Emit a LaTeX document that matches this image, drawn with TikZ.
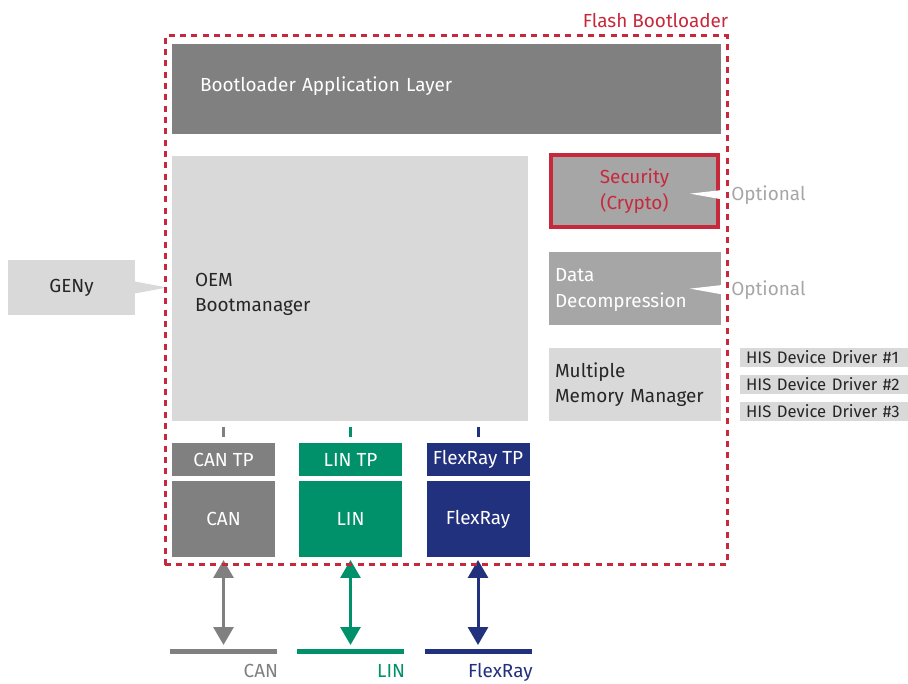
\documentclass[tikz,border=0pt]{standalone}
\usepackage{fontspec}
\setmainfont{Fira Sans}
\usetikzlibrary{arrows.meta}
\definecolor{boxdark}{HTML}{808080}
\definecolor{boxmid}{HTML}{A6A6A6}
\definecolor{boxlite}{HTML}{D9D9D9}
\definecolor{flashred}{HTML}{C8283C}
\definecolor{lingreen}{HTML}{00916A}
\definecolor{flexblue}{HTML}{21317D}
\definecolor{txtdark}{HTML}{262626}
\begin{document}
\begin{tikzpicture}[x=.75pt,y=-.75pt,font=\fontsize{14.2}{19}\selectfont]
\tikzset{blk/.style={inner sep=0pt,outer sep=0pt,align=left},
  lite/.style={blk,fill=boxlite,text=txtdark},
  optlabel/.style={inner sep=0pt,anchor=west,text=boxmid},
  busarrow/.style={line width=2.25pt,{Triangle[width=15pt,length=13.5pt]}-{Triangle[width=15pt,length=13.5pt]}}}
\useasboundingbox (0,0) rectangle (908,684);
%%% upper layers
\node[blk,fill=boxdark,text=white,minimum height=67.5pt,inner xsep=21pt,text width=369.75pt,text depth=8pt] (appl) at (446.5,89) {Bootloader Application Layer};
\node[lite,minimum height=198.75pt,inner xsep=17.25pt,text width=232.5pt,text height=18.8pt] (oem) at (350,288.5) {OEM\\Bootmanager};
\node[blk,align=center,fill=boxmid,draw=flashred,line width=3pt,text=flashred,minimum width=125.25pt,minimum height=54pt] (sec) at (634.5,191) {Security\\(Crypto)};
\node[blk,fill=boxmid,text=white,minimum height=54.75pt,inner xsep=4.5pt,text width=120pt,text height=12pt] (dec) at (635,288.5) {Data\\Decompression};
\node[lite,minimum height=54.75pt,inner xsep=4.5pt,text width=120pt] (mmm) at (635,384.5) {Multiple\\Memory Manager};
\foreach \i/\y in {1/357.5,2/384.5,3/411.5}
  \node[lite,font=\fontsize{12.5}{15}\selectfont,minimum height=14.25pt,inner xsep=4.5pt,text width=117pt] (his\i) at (824,\y) {HIS Device Driver \#\i};
% GENy with pointer
\node[lite,align=center,minimum width=95.25pt,minimum height=41.25pt] (geny) at (71.5,287.5) {GENy};
\fill[boxlite] ([yshift=4.5pt]geny.east) -- ([xshift=24pt]geny.east) -- ([yshift=-4.5pt]geny.east) -- cycle;
% optional callouts
\node[optlabel] (opt1) at (731,195) {Optional};
\node[optlabel] (opt2) at (731,290) {Optional};
\foreach \o in {opt1,opt2}
  \fill[white] ([yshift=4.5pt]\o.west) -- ([xshift=-30.75pt,yshift=1pt]\o.west) -- ([yshift=-4.5pt]\o.west) -- cycle;
%%% bus channels
\foreach \n/\c/\x/\t in {can/boxdark/223.5/CAN,lin/lingreen/350.5/LIN,flex/flexblue/478/FlexRay}{
  \node[blk,align=center,fill=\c,text=white,minimum width=77.25pt,minimum height=24.75pt] (\n-tp) at (\x,459.5) {\t\ TP};
  \node[blk,align=center,fill=\c,text=white,minimum width=77.25pt,minimum height=57pt] (\n) at (\x,519) {\t};
  \node[blk,fill=\c,minimum width=80.25pt,minimum height=3.75pt] (\n-bus) at (\x,651.5) {};
  \node[inner sep=0pt,anchor=base east,text=\c] (\n-lbl) at ([xshift=1pt,yshift=-17.5pt]\n-bus.south east) {\t};
  \draw[line width=2.25pt,\c,shorten <=4.5pt,shorten >=4.5pt] (\n-tp.north) -- (\n-tp.north |- oem.south);
  \draw[busarrow,\c,shorten <=2.25pt,shorten >=3pt] (\n.south) -- (\n-bus.north);
}
%%% bootloader frame
\node[draw=flashred,line width=2.25pt,dash pattern=on 4.5pt off 4pt,minimum width=421.5pt,minimum height=396.75pt,inner sep=0pt] (flash) at (446,300.5) {};
\node[inner sep=0pt,anchor=base east,text=flashred] (flashlbl) at ([yshift=5.6pt]flash.north east) {Flash Bootloader};
\end{tikzpicture}
\end{document}
